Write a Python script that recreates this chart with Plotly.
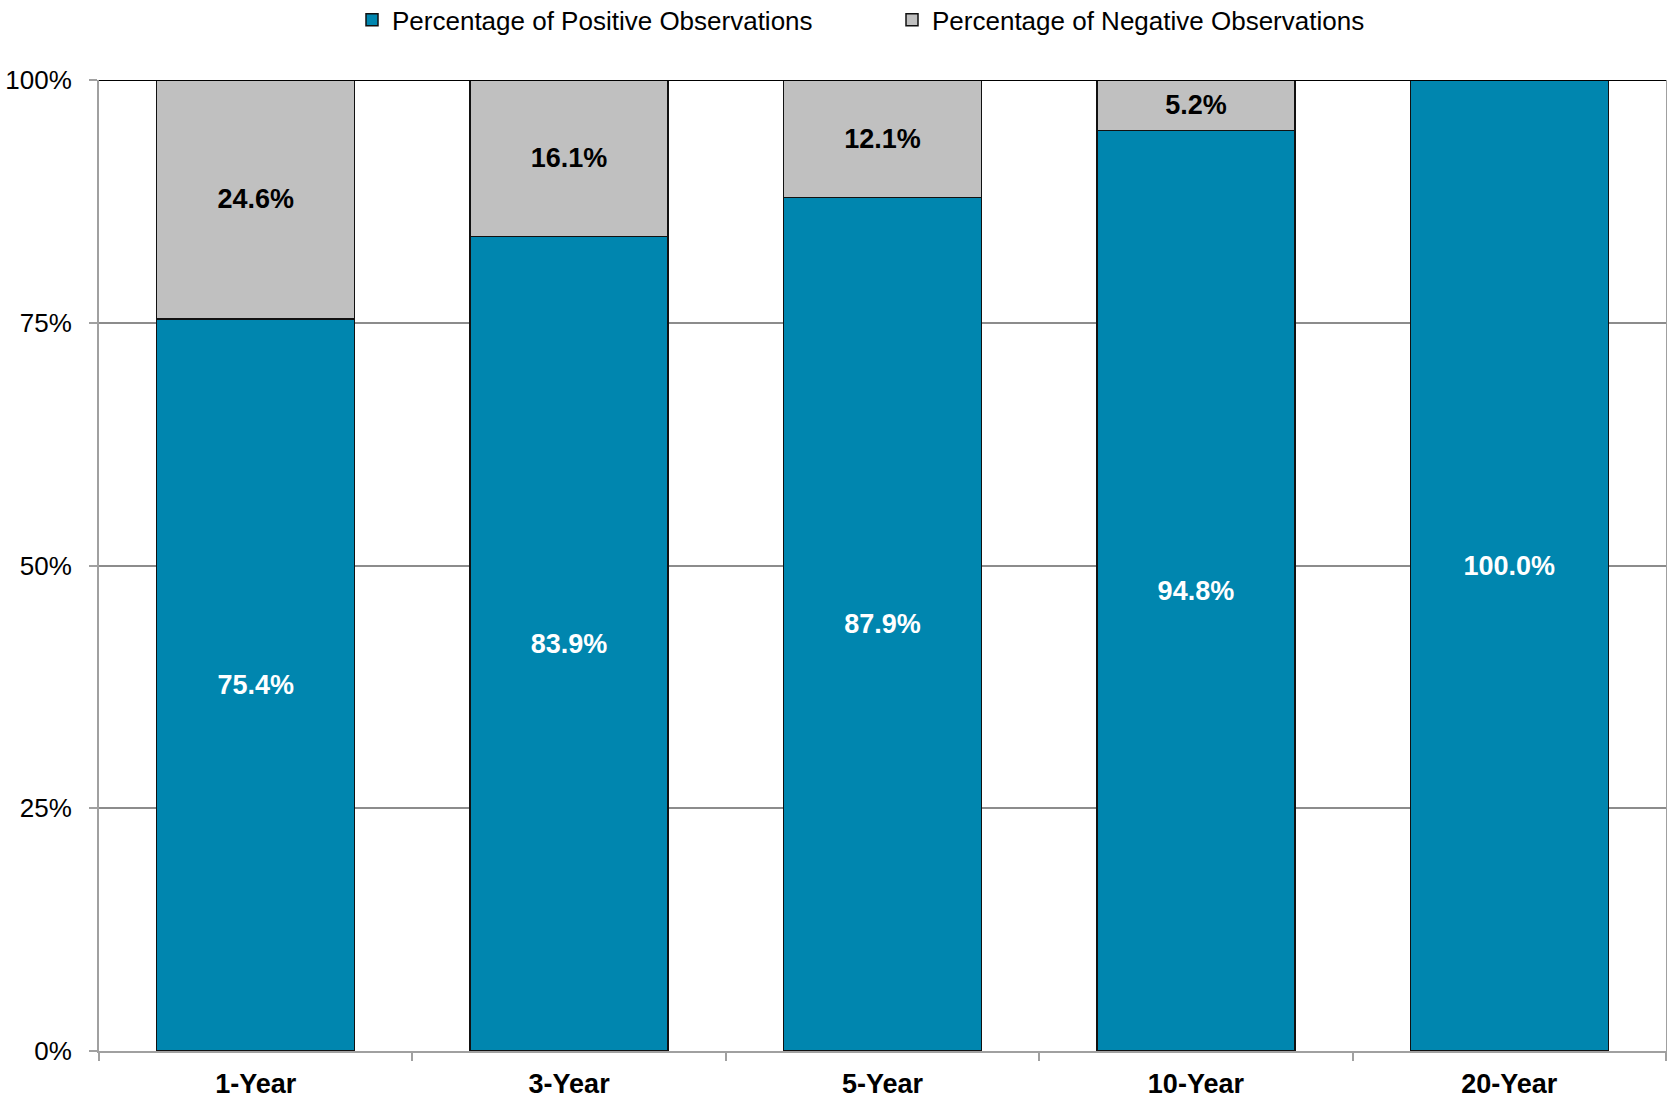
import plotly.graph_objects as go

categories = ["1-Year", "3-Year", "5-Year", "10-Year", "20-Year"]
positive = [75.4, 83.9, 87.9, 94.8, 100.0]
negative = [24.6, 16.1, 12.1, 5.2, 0.0]
y_ticks = [0, 25, 50, 75, 100]
y_tick_labels = ["0%", "25%", "50%", "75%", "100%"]

FONT = "Liberation Sans, Arial, sans-serif"
TEAL = "#0086AF"
GRAY = "#C0C0C0"

def lab(v):
    return f"{v:.1f}%" if v > 0 else ""

fig = go.Figure()
fig.add_trace(go.Bar(
    x=categories, y=positive, name="Percentage of Positive Observations",
    marker=dict(color=TEAL, line=dict(color="#111111", width=1.5)),
    text=[lab(v) for v in positive], textposition="inside",
    insidetextanchor="middle", textangle=0, constraintext="none",
    textfont=dict(family=FONT, size=27, color="white", weight="bold"),
    hoverinfo="skip",
))
fig.add_trace(go.Bar(
    x=categories, y=negative, name="Percentage of Negative Observations",
    marker=dict(color=GRAY, line=dict(color="#111111", width=1.5)),
    text=[lab(v) for v in negative], textposition="inside",
    insidetextanchor="middle", textangle=0, constraintext="none",
    textfont=dict(family=FONT, size=27, color="black", weight="bold"),
    hoverinfo="skip",
))

fig.update_layout(
    width=1667, height=1106,
    barmode="stack", bargap=0.368,
    plot_bgcolor="white", paper_bgcolor="white",
    margin=dict(l=99, r=1, t=80, b=55, autoexpand=False),
    font=dict(family=FONT, color="black"),
    legend=dict(orientation="h", x=(352 - 99) / 1567, xanchor="left", y=1.062, yanchor="middle",
                font=dict(family=FONT, size=26, color="black"),
                itemwidth=30, tracegroupgap=0, traceorder="normal",
                entrywidth=495, entrywidthmode="pixels"),
    showlegend=True,
    shapes=[dict(type="line", xref="paper", yref="y", x0=0, x1=1, y0=100, y1=100,
                 line=dict(color="black", width=2), layer="above")],
)
fig.update_xaxes(
    showgrid=False, showline=True, linecolor="#A0A0A0", linewidth=2,
    ticks="outside", tickson="boundaries", ticklen=8, tickcolor="#A0A0A0", tickwidth=2,
    tickfont=dict(family=FONT, size=27, color="black", weight="bold"),
    ticklabelstandoff=8,
)
fig.update_yaxes(
    range=[0, 100], tickvals=y_ticks, ticktext=y_tick_labels,
    showgrid=True, gridcolor="#8C8C8C", gridwidth=1.5,
    showline=True, linecolor="#A0A0A0", linewidth=2, mirror=True,
    ticks="outside", ticklen=8, tickcolor="#A0A0A0", tickwidth=2,
    tickfont=dict(family=FONT, size=26, color="black"),
    ticklabelstandoff=12, zeroline=False,
)

fig.write_html("out.html")
